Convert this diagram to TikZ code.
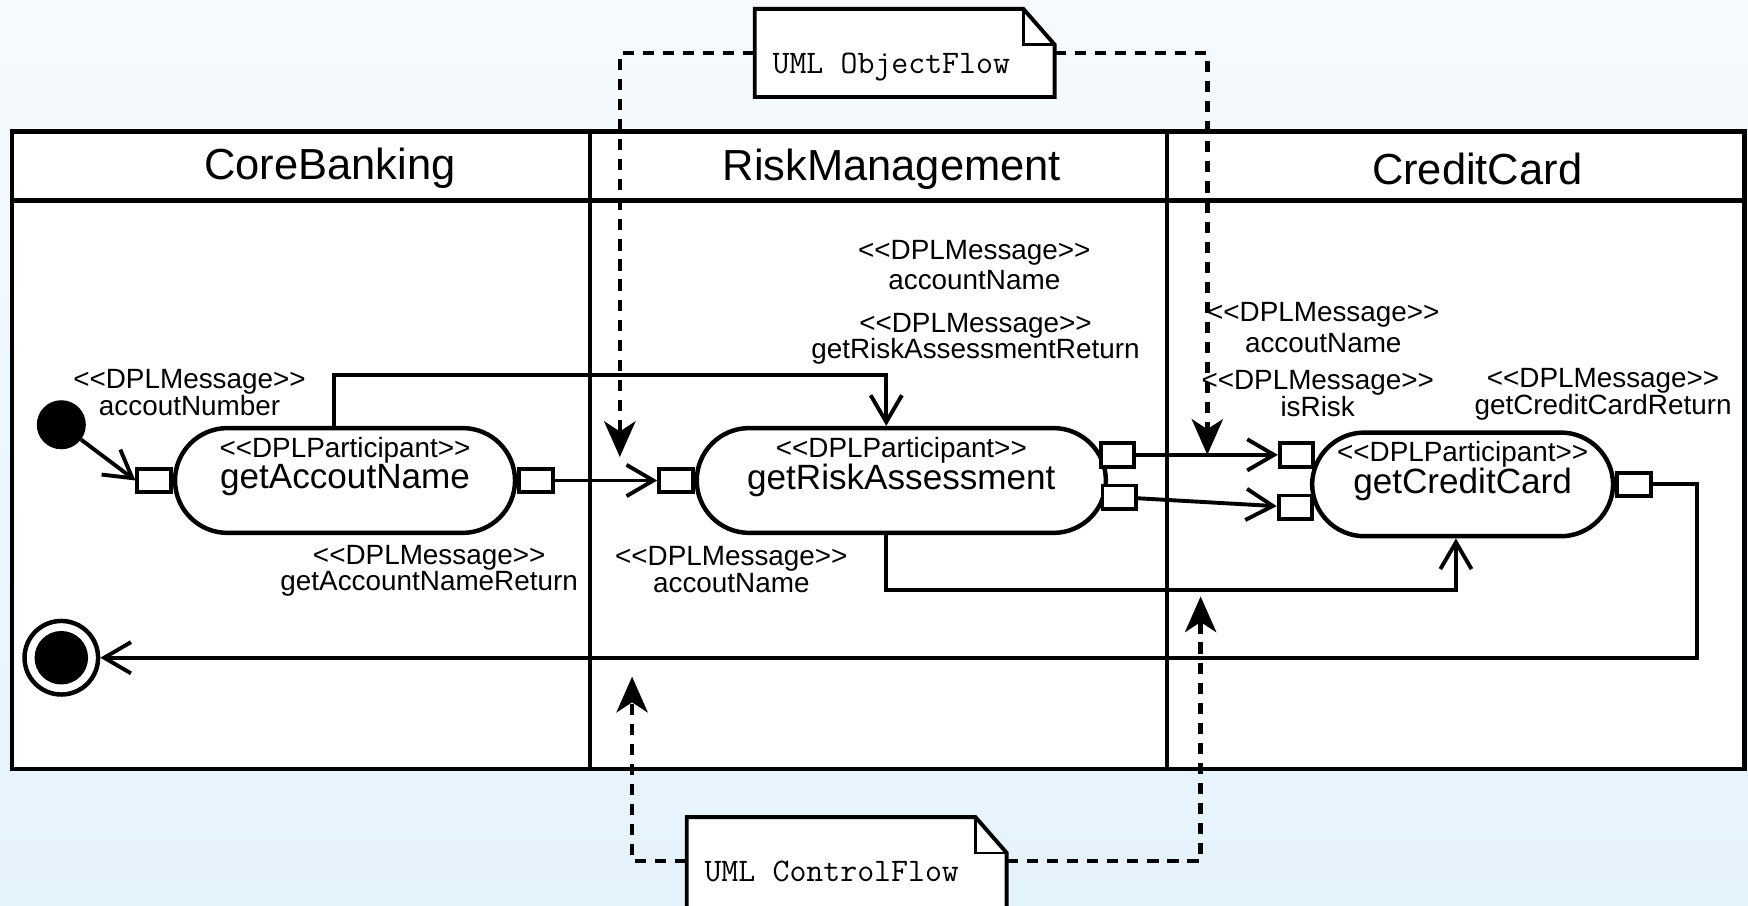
\documentclass[tikz,border=0pt]{standalone}
\usepackage{fontspec}
\setmainfont{Liberation Sans}
\usetikzlibrary{arrows.meta}
\definecolor{bgtop}{RGB}{246,250,254}
\definecolor{bgbottom}{RGB}{229,243,253}
\newcommand{\stype}[1]{{<}{<}#1{>}{>}}

\begin{document}
\begin{tikzpicture}[x=1pt, y=-1pt,
    lane/.style = {line width=4pt},
    flow/.style = {line width=3.5pt, -{Straight Barb[length=24pt, width=28pt]}},
    dflow/.style = {line width=4pt, dash pattern=on 10pt off 8pt, -{Stealth[length=32pt, width=28pt, inset=9pt]}},
    activity/.style = {draw, line width=4pt, fill=white, rounded corners=47pt, minimum height=94pt, inner sep=0pt, font=\fontsize{31.5}{34}\selectfont},
    stereo/.style = {anchor=base, yshift=-28pt, font=\fontsize{25}{27}\selectfont},
    port/.style = {draw, line width=3.5pt, fill=white, minimum width=30pt, minimum height=21pt, inner sep=0pt},
    msg/.style = {align=center, inner sep=0pt, font=\fontsize{25}{24}\selectfont},
    lanetitle/.style = {font=\fontsize{39}{42}\selectfont},
    initial/.style = {circle, fill, minimum size=44pt, inner sep=0pt},
    final/.style = {circle, draw, line width=4pt, fill=white, minimum size=66pt, inner sep=0pt,
        path picture={\fill[black] (path picture bounding box.center) circle (24pt);}},
    notebox/.style = {line width=3.5pt, fill=white},
    note/.style = {minimum height=79pt, inner xsep=16pt, inner ysep=0pt, text height=42pt, text depth=6pt, align=left, font=\ttfamily\fontsize{29.5}{30}\selectfont}
  ]
        \useasboundingbox (0,0) rectangle (1568,812);
        \fill[top color=bgtop, bottom color=bgbottom] (0,0) rectangle (1568,812);
        
        % swimlanes
        \filldraw[lane, fill=white] (11,118) rectangle (1565,690);
        \draw[lane] (11,180) -- (1565,180);
        \draw[lane] (529,118) -- (529,690);
        \draw[lane] (1047,118) -- (1047,690);
        \node[lanetitle] (corebank) at (296,151) {CoreBanking};
        \node[lanetitle] (riskmgmt) at (800,152) {RiskManagement};
        \node[lanetitle] (credcard) at (1325,152) {CreditCard};
        
        % notes
        \filldraw[notebox] (677,8) -- (918,8) -- (946,40) -- (946,87) -- (677,87) -- cycle;
        \draw[line width=2pt] (918,8) |- (946,40);
        \node[note, text width=237pt] (objnote) at (811.5,47.5) {UML\hspace{0.525em}ObjectFlow};
        
        \filldraw[notebox] (616,733) -- (875,733) -- (903,765) -- (903,815) -- (616,815) -- cycle;
        \draw[line width=2pt] (875,733) |- (903,765);
        \node[note, text width=255pt] (ctrlnote) at (759.5,772.5) {UML\hspace{0.525em}ControlFlow};
        
        \coordinate (objtip1) at (556,410);
        \coordinate (objtip2) at (1083,408);
        \coordinate (ctrltip1) at (567,607);
        \coordinate (ctrltip2) at (1077,535);
        \draw[dflow] (objnote.west) -| (objtip1);
        \draw[dflow] (objnote.east) -| (objtip2);
        \draw[dflow] (ctrlnote.west) -| (ctrltip1);
        \draw[dflow] (ctrlnote.east) -| (ctrltip2);
        
        % activities
        \node[initial] (start) at (55,381) {};
        \node[final] (stop) at (55,590) {};
        
        \node[activity, minimum width=305pt, label={[stereo]above:\stype{DPLParticipant}}] (gan) at (309.5,431) {getAccoutName};
        \node[activity, minimum width=367pt, label={[stereo]above:\stype{DPLParticipant}}] (gra) at (808.5,431) {getRiskAssessment};
        \node[activity, minimum width=270pt, minimum height=93pt, label={[stereo]above:\stype{DPLParticipant}}] (gcc) at (1312,434.5) {getCreditCard};
        
        \node[port, anchor=east] (ganin) at (gan.west) {};
        \node[port, anchor=west] (ganout) at (gan.east) {};
        \node[port, anchor=east] (grain) at (gra.west) {};
        \node[port] (graout1) at (1002.5,408) {};
        \node[port] (graout2) at (1004,446) {};
        \node[port] (gccin1) at (1163,408) {};
        \node[port] (gccin2) at (1162,455) {};
        \node[port, anchor=west] (gccout) at (gcc.east) {};
        
        % flows
        \draw[flow] (start) -- (ganin.west);
        \draw[flow] (ganout) -- (grain);
        \draw[flow] ([xshift=-9.5pt]gan.north) -- ++(0,-46) -| ([xshift=-13.5pt]gra.north);
        \draw[flow] (graout1) -- (gccin1);
        \draw[flow] (graout2) -- (gccin2);
        \draw[flow] ([xshift=-13.5pt]gra.south) -- ++(0,49) -| ([xshift=-6pt]gcc.south);
        \coordinate (bend) at (1522,590);
        \draw[flow] (gccout) -| (bend) -- (stop);
        
        % messages
        \node[msg] (accnum) at (170,352) {\stype{DPLMessage}\\accoutNumber};
        \node[msg] (ganret) at (385,512) {\stype{DPLMessage}\\getAccountNameReturn};
        \node[msg] (rmname) at (656,511) {\stype{DPLMessage}\\accoutName};
        \node[msg] (accname) at (874,238) {\stype{DPLMessage}\\[3pt]accountName};
        \node[msg] (graret) at (875,304) {\stype{DPLMessage}\\getRiskAssessmentReturn};
        \node[msg] (ccname) at (1187,294) {\stype{DPLMessage}\\[4pt]accoutName};
        \node[msg] (isrisk) at (1182,353) {\stype{DPLMessage}\\isRisk};
        \node[msg] (gccret) at (1438,354) {\stype{DPLMessage}\\getCreditCardReturn};
    \end{tikzpicture}
\end{document}
